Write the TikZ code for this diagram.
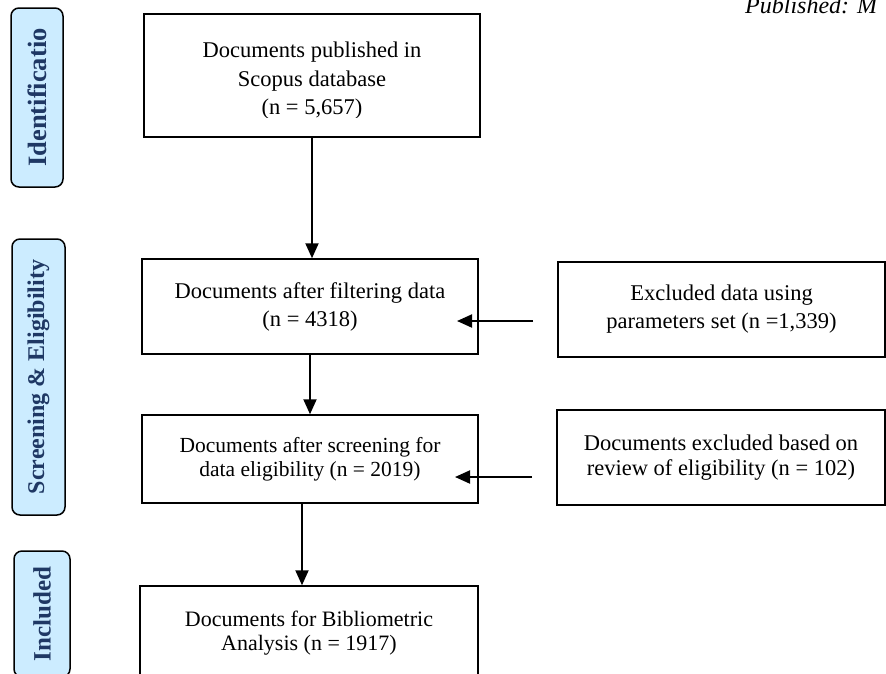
\documentclass[tikz,border=0pt]{standalone}
\usepackage{fontspec}
\setmainfont{Liberation Serif}
\usetikzlibrary{arrows.meta}
\definecolor{sidefill}{RGB}{204,236,255}
\definecolor{sidetext}{RGB}{31,56,100}
\tikzset{
  box/.style={draw=black, line width=1.5pt, minimum width=#1, inner sep=0pt, align=center,
    font=\fontsize{22.5}{28}\selectfont},
  txt/.style={inner sep=0pt, align=center, font=\fontsize{22.5}{28.5}\selectfont},
  side/.style={draw=black, line width=1.5pt, fill=sidefill, rounded corners=8pt, rotate=90,
    inner sep=0pt, text=sidetext, font=\fontsize{25}{30}\selectfont\bfseries},
  arr/.style={line width=2pt, -{Triangle[length=15pt,width=13pt]}}
}
\begin{document}
\begin{tikzpicture}[x=1pt,y=-1pt]
\useasboundingbox (0,0) rectangle (886,673);
% side labels
\node[side, minimum width=179pt, minimum height=52pt, font=\fontsize{26.5}{30}\selectfont\bfseries] (s1) at (37,97.5) {Identificatio};
\node[side, minimum width=276pt, minimum height=53pt, font=\fontsize{24}{30}\selectfont\bfseries] (s2) at (38.5,377) {Screening \& Eligibility};
\node[side, minimum width=126pt, minimum height=56pt] (s3) at (42,614) {Included};
% main boxes
\node[box=336pt, minimum height=123pt] (b1) at (312,75.5) {};
\begin{scope}
\clip (144,14) rectangle (480,117.5);
\node[txt] (b1t) at (312,81) {Documents published in\\Scopus database\\(n = 5,657)};
\end{scope}
\node[box=336pt, minimum height=95pt] (b2) at (310,306.5) {Documents after filtering data\\(n = 4318)};
\node[box=336pt, minimum height=88pt, font=\fontsize{21.5}{24}\selectfont] (b3) at (310,459) {Documents after screening for\\data eligibility (n = 2019)};
\node[box=338pt, minimum height=94pt, font=\fontsize{22}{24}\selectfont] (b4) at (309,633) {Documents for Bibliometric\\Analysis (n = 1917)};
\node[box=327pt, minimum height=95pt] (e1) at (721.5,309.5) {Excluded data using\\parameters set (n =1,339)};
\node[box=328pt, minimum height=95pt, font=\fontsize{22.5}{25}\selectfont] (e2) at (721,457.5) {Documents excluded based on\\review of eligibility (n = 102)};
% header fragment
\node[inner sep=0pt, anchor=base west, font=\fontsize{24}{28}\selectfont\itshape] (pub) at (745,13) {Published: M};
% connectors
\draw[arr] (b1.south) -- (b1.south |- b2.north);
\draw[arr] (b2.south) -- (b3.north);
\draw[arr] ([xshift=-8pt]b3.south) -- ([xshift=-8pt]b3.south |- b4.north);
\coordinate (t1) at (533,321);
\coordinate (h1) at (457,321);
\coordinate (t2) at (532,477);
\coordinate (h2) at (455,477);
\draw[arr] (t1) -- (h1);
\draw[arr] (t2) -- (h2);
\end{tikzpicture}
\end{document}
